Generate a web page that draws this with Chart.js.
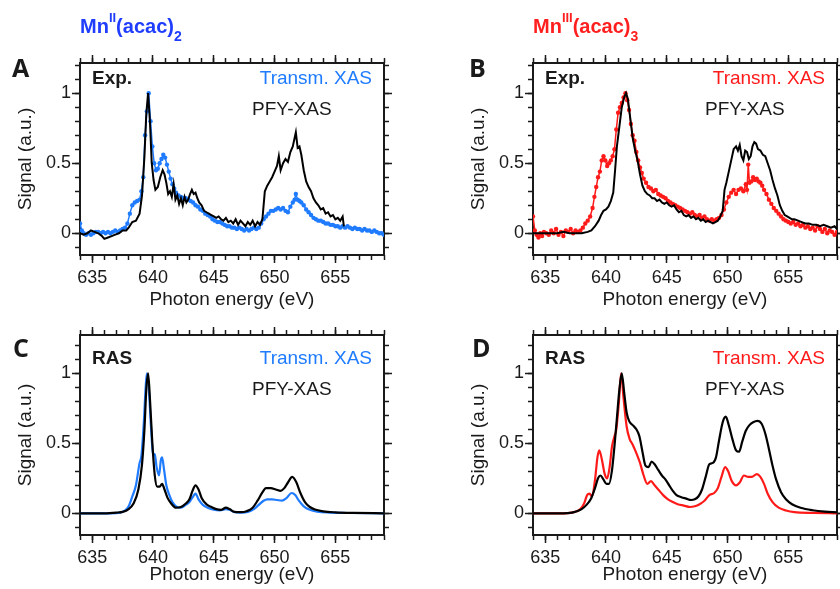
<!DOCTYPE html>
<html><head><meta charset="utf-8">
<script src="https://cdn.jsdelivr.net/npm/chart.js@4/dist/chart.umd.min.js"></script>
<style>
html,body{margin:0;padding:0;background:#fff;overflow:hidden;width:840px;height:589px;position:relative;}
canvas{position:absolute;}
</style></head><body>
<canvas id="cA" width="420" height="312" style="left:0px;top:0px"></canvas>
<canvas id="cB" width="420" height="312" style="left:453px;top:0px"></canvas>
<canvas id="cC" width="420" height="309" style="left:0px;top:280px"></canvas>
<canvas id="cD" width="420" height="309" style="left:453px;top:280px"></canvas>
<script>
// ---------- tick values ----------
const xMajorTicks = [635, 640, 645, 650, 655];
const xMinorTicks = [634,635,636,637,638,639,640,641,642,643,644,645,646,647,648,649,650,651,652,653,654,655,656,657,658,659];
const yMajorTicks = [0, 0.5, 1];
const yMinorTicks = [-0.1,0,0.1,0.2,0.3,0.4,0.5,0.6,0.7,0.8,0.9,1.0,1.1,1.2];

// ---------- Panel A: Mn(II)(acac)2, experiment ----------
const energyA_PFY = [634.0,634.3,634.6,634.9,635.2,635.5,635.8,636.0,636.3,636.6,636.9,637.2,637.5,637.8,638.0,638.3,638.6,638.9,639.1,639.3,639.45,639.6,639.75,639.9,640.05,640.2,640.4,640.6,640.8,640.95,641.1,641.25,641.4,641.55,641.7,641.85,642.0,642.15,642.3,642.45,642.6,642.75,642.9,643.05,643.2,643.35,643.5,643.65,643.8,644.0,644.2,644.4,644.6,644.8,645.0,645.2,645.4,645.6,645.8,646.0,646.2,646.4,646.6,646.8,647.0,647.2,647.4,647.6,647.8,648.0,648.2,648.4,648.6,648.8,649.0,649.2,649.4,649.6,649.8,650.0,650.2,650.35,650.5,650.7,650.9,651.1,651.3,651.5,651.6,651.75,651.9,652.05,652.2,652.4,652.6,652.8,653.0,653.2,653.4,653.6,653.8,654.0,654.2,654.4,654.6,654.8,655.0,655.2,655.4,655.6,655.7];
const signalA_PFY = [0.00,-0.01,0.00,0.02,0.01,0.00,-0.02,-0.04,-0.03,-0.02,-0.01,0.00,0.02,0.02,0.04,0.08,0.09,0.14,0.27,0.55,0.85,1.00,0.80,0.50,0.38,0.31,0.33,0.40,0.45,0.42,0.36,0.28,0.30,0.26,0.35,0.24,0.27,0.21,0.25,0.20,0.26,0.22,0.24,0.28,0.31,0.28,0.29,0.25,0.22,0.20,0.16,0.15,0.14,0.13,0.12,0.11,0.12,0.10,0.09,0.11,0.08,0.09,0.07,0.10,0.06,0.09,0.07,0.05,0.08,0.06,0.09,0.05,0.08,0.06,0.10,0.30,0.34,0.37,0.40,0.44,0.48,0.55,0.45,0.50,0.53,0.51,0.58,0.62,0.66,0.72,0.61,0.62,0.56,0.45,0.37,0.33,0.30,0.25,0.22,0.20,0.17,0.18,0.14,0.15,0.12,0.13,0.10,0.11,0.09,0.12,0.05];
const energyA_TXAS = [634.0,634.15,634.3,634.5,634.7,634.9,635.1,635.3,635.5,635.7,635.9,636.1,636.3,636.5,636.7,636.9,637.1,637.3,637.5,637.7,637.9,638.1,638.3,638.5,638.7,638.9,639.05,639.2,639.35,639.5,639.65,639.8,639.95,640.1,640.25,640.4,640.55,640.7,640.85,641.0,641.15,641.3,641.45,641.6,641.75,641.9,642.1,642.3,642.5,642.7,642.9,643.1,643.3,643.5,643.7,643.9,644.1,644.3,644.5,644.7,644.9,645.1,645.3,645.5,645.7,645.9,646.1,646.3,646.5,646.7,646.9,647.1,647.3,647.5,647.7,647.9,648.1,648.3,648.5,648.7,648.9,649.1,649.3,649.5,649.7,649.9,650.1,650.3,650.5,650.7,650.9,651.1,651.3,651.5,651.65,651.75,651.9,652.05,652.2,652.4,652.6,652.8,653.0,653.2,653.4,653.6,653.8,654.0,654.2,654.4,654.6,654.8,655.0,655.2,655.4,655.6,655.8,656.0,656.2,656.4,656.6,656.8,657.0,657.2,657.4,657.6,657.8,658.0,658.2,658.4,658.6,658.8,659.0];
const signalA_TXAS = [0.07,0.02,0.00,-0.01,0.00,-0.01,0.00,0.01,0.01,0.00,0.01,0.00,0.01,0.00,0.01,0.02,0.01,0.02,0.03,0.04,0.07,0.14,0.20,0.22,0.23,0.24,0.30,0.40,0.70,0.87,1.00,0.80,0.62,0.50,0.45,0.46,0.50,0.53,0.56,0.54,0.49,0.44,0.39,0.35,0.32,0.29,0.27,0.26,0.25,0.25,0.24,0.23,0.22,0.20,0.19,0.17,0.16,0.14,0.13,0.12,0.10,0.09,0.08,0.08,0.07,0.06,0.05,0.05,0.04,0.04,0.03,0.04,0.03,0.02,0.03,0.02,0.03,0.04,0.03,0.04,0.07,0.10,0.12,0.14,0.16,0.16,0.17,0.18,0.17,0.18,0.16,0.15,0.19,0.22,0.24,0.28,0.24,0.23,0.22,0.20,0.17,0.15,0.13,0.11,0.10,0.09,0.09,0.08,0.07,0.07,0.06,0.06,0.05,0.05,0.04,0.05,0.04,0.05,0.04,0.03,0.04,0.03,0.03,0.02,0.03,0.02,0.02,0.01,0.02,0.01,0.00,0.00,-0.01];

// ---------- Panel B: Mn(III)(acac)3, experiment ----------
const energyB_PFY = [634.0,634.5,635.0,635.5,636.0,636.5,637.0,637.5,638.0,638.5,638.8,639.1,639.4,639.6,639.8,640.0,640.2,640.4,640.6,640.75,640.9,641.1,641.3,641.5,641.65,641.8,642.0,642.2,642.4,642.6,642.8,643.0,643.2,643.4,643.6,643.8,644.0,644.2,644.4,644.6,644.8,645.0,645.2,645.4,645.6,645.8,646.0,646.2,646.4,646.6,646.8,647.0,647.2,647.4,647.6,647.8,648.0,648.2,648.4,648.6,648.8,649.0,649.2,649.4,649.6,649.75,649.9,650.1,650.3,650.5,650.7,650.85,651.0,651.15,651.3,651.45,651.6,651.75,651.9,652.05,652.2,652.35,652.5,652.7,652.9,653.1,653.3,653.5,653.7,653.9,654.1,654.3,654.5,654.7,654.9,655.1,655.3,655.5,655.8,656.1,656.4,656.7,657.0,657.3,657.6,657.9,658.2,658.5,658.8,659.0];
const signalB_PFY = [0.00,0.00,0.00,0.00,0.00,0.01,0.00,0.00,0.00,0.01,0.02,0.05,0.09,0.13,0.16,0.17,0.19,0.23,0.29,0.45,0.62,0.76,0.90,0.97,1.00,0.96,0.82,0.68,0.59,0.52,0.42,0.34,0.30,0.28,0.27,0.25,0.25,0.23,0.24,0.22,0.21,0.22,0.20,0.19,0.20,0.17,0.15,0.16,0.13,0.12,0.13,0.11,0.12,0.10,0.11,0.09,0.10,0.08,0.09,0.08,0.07,0.08,0.09,0.12,0.16,0.31,0.36,0.44,0.52,0.60,0.62,0.59,0.63,0.55,0.52,0.59,0.58,0.53,0.55,0.62,0.65,0.64,0.60,0.59,0.56,0.55,0.50,0.45,0.38,0.32,0.27,0.20,0.16,0.13,0.12,0.11,0.10,0.10,0.09,0.08,0.07,0.07,0.06,0.06,0.05,0.06,0.05,0.04,0.05,0.03];
const energyB_TXAS = [634.0,634.15,634.3,634.45,634.6,634.75,634.9,635.1,635.3,635.5,635.7,635.9,636.1,636.3,636.5,636.7,636.9,637.1,637.3,637.5,637.7,637.9,638.1,638.3,638.5,638.7,638.9,639.05,639.2,639.35,639.5,639.65,639.8,639.95,640.1,640.25,640.4,640.55,640.7,640.85,641.0,641.15,641.3,641.45,641.6,641.75,641.9,642.05,642.2,642.35,642.5,642.65,642.8,642.95,643.1,643.3,643.5,643.7,643.9,644.1,644.3,644.5,644.7,644.9,645.1,645.3,645.5,645.7,645.9,646.1,646.3,646.5,646.7,646.9,647.1,647.3,647.5,647.7,647.9,648.1,648.3,648.5,648.7,648.9,649.1,649.3,649.5,649.7,649.9,650.1,650.3,650.5,650.7,650.9,651.1,651.3,651.5,651.6,651.7,651.8,651.95,652.1,652.25,652.4,652.55,652.7,652.85,653.0,653.2,653.4,653.6,653.8,654.0,654.2,654.4,654.6,654.8,655.0,655.2,655.4,655.6,655.8,656.0,656.2,656.4,656.6,656.8,657.0,657.2,657.4,657.6,657.8,658.0,658.2,658.4,658.6,658.8,659.0];
const signalB_TXAS = [0.12,0.02,-0.01,-0.03,0.00,-0.02,0.01,0.00,-0.01,0.02,0.00,0.03,-0.01,0.01,-0.02,0.02,0.01,0.03,0.00,0.02,0.01,0.02,0.04,0.07,0.09,0.12,0.18,0.26,0.33,0.40,0.44,0.52,0.55,0.52,0.48,0.50,0.52,0.55,0.60,0.74,0.86,0.90,0.93,0.97,1.00,0.95,0.88,0.78,0.70,0.66,0.58,0.52,0.47,0.43,0.39,0.36,0.33,0.32,0.30,0.31,0.28,0.27,0.26,0.25,0.23,0.22,0.21,0.20,0.19,0.18,0.17,0.16,0.15,0.14,0.15,0.13,0.12,0.13,0.11,0.12,0.10,0.09,0.10,0.09,0.10,0.11,0.13,0.17,0.22,0.26,0.29,0.31,0.28,0.31,0.32,0.30,0.35,0.31,0.49,0.36,0.37,0.40,0.38,0.39,0.37,0.36,0.34,0.31,0.28,0.24,0.21,0.18,0.16,0.14,0.12,0.10,0.09,0.08,0.07,0.08,0.06,0.07,0.05,0.06,0.04,0.05,0.03,0.04,0.02,0.05,0.03,0.01,0.03,0.00,0.02,0.01,-0.01,0.01];

// ---------- Panel C: Mn(II)(acac)2, RAS calculation ----------
const energyC_PFY = [634.0,636.0,637.0,637.5,638.0,638.4,638.8,639.1,639.3,639.45,639.6,639.75,639.95,640.15,640.35,640.55,640.75,640.95,641.2,641.5,641.9,642.3,642.7,643.0,643.25,643.5,643.75,644.0,644.4,644.8,645.2,645.6,646.0,646.3,646.7,647.2,647.7,648.2,648.6,649.0,649.3,649.7,650.1,650.5,650.8,651.1,651.45,651.8,652.1,652.5,652.9,653.4,654.0,655.0,656.5,659.0];
const signalC_PFY = [0,0,0.005,0.01,0.03,0.07,0.17,0.35,0.60,0.88,1.00,0.82,0.50,0.27,0.19,0.19,0.21,0.17,0.11,0.07,0.04,0.045,0.07,0.10,0.16,0.20,0.17,0.11,0.065,0.045,0.03,0.025,0.04,0.03,0.01,0.008,0.015,0.04,0.09,0.15,0.18,0.18,0.17,0.16,0.18,0.22,0.26,0.22,0.15,0.08,0.045,0.025,0.014,0.007,0.003,0];
const energyC_TXAS = [634.0,636.5,637.3,637.7,638.0,638.3,638.6,638.9,639.05,639.25,639.4,639.5,639.65,639.85,640.0,640.15,640.3,640.5,640.65,640.75,640.9,641.1,641.35,641.6,641.9,642.3,642.7,643.0,643.3,643.5,643.75,644.1,644.5,645.0,645.5,646.0,646.3,646.7,647.3,647.8,648.3,648.7,649.1,649.4,649.8,650.2,650.6,651.0,651.4,651.7,652.0,652.4,652.9,653.5,654.5,656.0,659.0];
const signalC_TXAS = [0,0,0.005,0.02,0.05,0.12,0.20,0.36,0.41,0.65,0.90,1.00,0.90,0.60,0.43,0.42,0.33,0.27,0.38,0.40,0.32,0.20,0.13,0.08,0.05,0.04,0.06,0.08,0.12,0.14,0.10,0.06,0.04,0.025,0.02,0.03,0.025,0.008,0.005,0.01,0.03,0.06,0.09,0.10,0.10,0.095,0.09,0.11,0.145,0.13,0.09,0.05,0.025,0.012,0.005,0.002,0];

// ---------- Panel D: Mn(III)(acac)3, RAS calculation ----------
const energyD_PFY = [634.0,636.5,637.2,637.6,638.0,638.4,638.8,639.1,639.35,639.55,639.8,640.05,640.25,640.5,640.7,640.9,641.1,641.3,641.5,641.7,641.9,642.2,642.5,642.75,643.0,643.25,643.5,643.75,644.0,644.3,644.6,644.9,645.2,645.5,645.8,646.2,646.6,647.0,647.3,647.6,647.9,648.2,648.5,648.8,649.05,649.3,649.6,649.85,650.1,650.4,650.7,650.95,651.2,651.5,651.8,652.1,652.45,652.8,653.1,653.4,653.7,654.0,654.4,654.8,655.3,656.0,657.0,658.0,659.0];
const signalD_PFY = [0,0,0.005,0.015,0.03,0.06,0.11,0.18,0.25,0.27,0.24,0.21,0.21,0.31,0.48,0.68,0.88,1.00,0.86,0.72,0.66,0.63,0.60,0.55,0.44,0.34,0.33,0.37,0.35,0.31,0.27,0.24,0.20,0.16,0.13,0.115,0.105,0.095,0.10,0.12,0.17,0.26,0.35,0.36,0.40,0.52,0.65,0.69,0.63,0.53,0.45,0.44,0.51,0.59,0.63,0.65,0.66,0.64,0.57,0.46,0.34,0.24,0.15,0.10,0.065,0.04,0.022,0.012,0.007];
const energyD_TXAS = [634.0,636.5,637.2,637.6,637.9,638.2,638.45,638.65,638.85,639.1,639.3,639.45,639.65,639.9,640.1,640.3,640.5,640.7,640.85,641.05,641.25,641.45,641.7,641.95,642.2,642.5,642.8,643.1,643.4,643.7,644.0,644.3,644.7,645.1,645.5,645.9,646.4,646.9,647.3,647.7,648.1,648.5,648.9,649.2,649.5,649.8,650.05,650.35,650.7,651.0,651.35,651.7,652.0,652.4,652.7,653.0,653.3,653.7,654.2,654.8,655.5,657.0,659.0];
const signalD_TXAS = [0,0,0.005,0.015,0.03,0.07,0.13,0.14,0.12,0.24,0.40,0.45,0.39,0.28,0.25,0.33,0.48,0.55,0.60,0.78,1.00,0.82,0.62,0.53,0.49,0.43,0.36,0.27,0.21,0.23,0.20,0.17,0.13,0.10,0.08,0.065,0.055,0.045,0.05,0.065,0.09,0.13,0.145,0.18,0.26,0.33,0.30,0.23,0.20,0.22,0.27,0.26,0.26,0.28,0.26,0.21,0.14,0.08,0.04,0.02,0.008,0.003,0];

// ---------- styling ----------
const ARIAL = "'Liberation Sans', Arial, Helvetica, sans-serif";
const INK = '#1a1a1a';
const BLUE = '#1f7bff';
const RED = '#ff1a1a';
const BLUE_TITLE = '#1f3dff';
const RED_TITLE = '#ff1f1f';

function ticksFrom(arr) { return s => { s.ticks = arr.map(v => ({ value: v })); }; }

function buildScales(yMin, yMax, xAxisHeight, xTitleBottomPad) {
  const tickFont = { family: ARIAL, size: 18 };
  const titleFont = { family: ARIAL, size: 19 };
  const frame = { display: true, width: 2, color: INK };
  const noBorder = { display: false };
  const minorGrid = { drawOnChartArea: false, tickLength: 5, tickWidth: 1.5, tickColor: INK };
  const majorGrid = { drawOnChartArea: false, tickLength: 8, tickWidth: 1.5, tickColor: INK };
  return {
    x: { type: 'linear', axis: 'x', position: 'bottom', min: 634, max: 659, weight: 1,
         afterBuildTicks: ticksFrom(xMajorTicks), afterFit: s => { s.height = xAxisHeight; },
         ticks: { font: tickFont, color: INK, padding: 4, maxRotation: 0, autoSkip: false, callback: v => String(v) },
         grid: majorGrid, border: frame,
         title: { display: true, text: 'Photon energy (eV)', font: titleFont, color: INK, padding: { top: 0, bottom: xTitleBottomPad } } },
    xMinor: { type: 'linear', axis: 'x', position: 'bottom', min: 634, max: 659, weight: 0,
         afterBuildTicks: ticksFrom(xMinorTicks), afterFit: s => { s.height = 0; },
         ticks: { display: false }, grid: minorGrid, border: noBorder },
    xTop: { type: 'linear', axis: 'x', position: 'top', min: 634, max: 659, weight: 1,
         afterBuildTicks: ticksFrom(xMajorTicks), afterFit: s => { s.height = 0; },
         ticks: { display: false }, grid: majorGrid, border: frame },
    xTopMinor: { type: 'linear', axis: 'x', position: 'top', min: 634, max: 659, weight: 0,
         afterBuildTicks: ticksFrom(xMinorTicks), afterFit: s => { s.height = 0; },
         ticks: { display: false }, grid: minorGrid, border: noBorder },
    y: { type: 'linear', axis: 'y', position: 'left', min: yMin, max: yMax, weight: 1,
         afterBuildTicks: ticksFrom(yMajorTicks), afterFit: s => { s.width = 80; },
         ticks: { font: tickFont, color: INK, padding: 1, callback: v => String(v) },
         grid: majorGrid, border: frame,
         title: { display: true, text: 'Signal (a.u.)', font: titleFont, color: INK, padding: { top: 14, bottom: 0 } } },
    yMinor: { type: 'linear', axis: 'y', position: 'left', min: yMin, max: yMax, weight: 0,
         afterBuildTicks: ticksFrom(yMinorTicks), afterFit: s => { s.width = 0; },
         ticks: { display: false }, grid: minorGrid, border: noBorder },
    yRight: { type: 'linear', axis: 'y', position: 'right', min: yMin, max: yMax, weight: 1,
         afterBuildTicks: ticksFrom(yMajorTicks), afterFit: s => { s.width = 0; },
         ticks: { display: false }, grid: majorGrid, border: frame },
    yRightMinor: { type: 'linear', axis: 'y', position: 'right', min: yMin, max: yMax, weight: 0,
         afterBuildTicks: ticksFrom(yMinorTicks), afterFit: s => { s.width = 0; },
         ticks: { display: false }, grid: minorGrid, border: noBorder }
  };
}

function series(energies, signals, color, extra) {
  return Object.assign({
    data: energies.map((e, i) => ({ x: e, y: signals[i] })),
    borderColor: color, backgroundColor: color,
    xAxisID: 'x', yAxisID: 'y', fill: false
  }, extra);
}

const expLine = { borderWidth: 2, pointRadius: 0, tension: 0, order: 0 };
const expDots = { borderWidth: 1.5, pointRadius: 2.2, pointBorderWidth: 0, tension: 0, order: 1 };
const calcLine = { borderWidth: 2.2, pointRadius: 0, cubicInterpolationMode: 'monotone' };

// text overlay plugin (panel letters, compound names, in-plot labels)
const panelText = {
  id: 'panelText',
  afterDraw(chart, args, opts) {
    const ctx = chart.ctx;
    ctx.save();
    ctx.textBaseline = 'alphabetic';
    (opts.items || []).forEach(it => {
      ctx.font = it.font; ctx.fillStyle = it.color; ctx.textAlign = it.align || 'left';
      ctx.fillText(it.text, it.x, it.y);
    });
    if (opts.rich) {
      let x = opts.rich.x;
      opts.rich.segs.forEach(sg => {
        ctx.font = 'bold ' + sg.size + 'px ' + ARIAL;
        ctx.fillStyle = opts.rich.color; ctx.textAlign = 'left';
        ctx.fillText(sg.text, x, opts.rich.y + (sg.dy || 0));
        x += ctx.measureText(sg.text).width + (sg.gap || 0);
      });
    }
    ctx.restore();
  }
};

const LETTER_FONT = "bold 25px 'Open Sans', 'DejaVu Sans', sans-serif";
const TAG_FONT = "bold 19px " + ARIAL;
const LEG_FONT = "19px " + ARIAL;

function makeChart(id, datasets, yMin, yMax, padTop, xAxisHeight, xTitlePad, textOpts) {
  return new Chart(document.getElementById(id), {
    type: 'line',
    data: { datasets },
    options: {
      responsive: false, animation: false, devicePixelRatio: 1, events: [],
      layout: { padding: { left: 0, top: padTop, right: 36, bottom: 0 } },
      plugins: { legend: { display: false }, tooltip: { enabled: false }, panelText: textOpts },
      scales: buildScales(yMin, yMax, xAxisHeight, xTitlePad)
    },
    plugins: [panelText]
  });
}

function labels(letter, letterX, tag, color) {
  return [
    { text: letter, x: letterX, y: 77, font: LETTER_FONT, color: INK },
    { text: tag, x: 92, y: 84, font: TAG_FONT, color: INK },
    { text: 'Transm. XAS', x: 372, y: 84, font: LEG_FONT, color: color, align: 'right' },
    { text: 'PFY-XAS', x: 252, y: 115, font: LEG_FONT, color: INK }
  ];
}

makeChart('cA', [
  series(energyA_PFY, signalA_PFY, '#000000', expLine),
  series(energyA_TXAS, signalA_TXAS, BLUE, expDots)
], -0.155, 1.215, 63, 57, 0.6, {
  items: labels('A', 12, 'Exp.', BLUE),
  rich: { x: 80, y: 33, color: BLUE_TITLE, segs: [
    { text: 'Mn', size: 20 }, { text: 'II', size: 13, dy: -11 }, { text: '(acac)', size: 20 }, { text: '2', size: 14, dy: 8 } ] }
});

makeChart('cB', [
  series(energyB_PFY, signalB_PFY, '#000000', expLine),
  series(energyB_TXAS, signalB_TXAS, RED, expDots)
], -0.155, 1.215, 63, 57, 0.6, {
  items: labels('B', 16, 'Exp.', RED),
  rich: { x: 80, y: 33, color: RED_TITLE, segs: [
    { text: 'Mn', size: 20 }, { text: 'III', size: 13, dy: -11 }, { text: '(acac)', size: 20 }, { text: '3', size: 14, dy: 8 } ] }
});

makeChart('cC', [
  series(energyC_PFY, signalC_PFY, '#000000', Object.assign({ order: 0 }, calcLine)),
  series(energyC_TXAS, signalC_TXAS, BLUE, Object.assign({ order: 1 }, calcLine))
], -0.155, 1.2736, 55, 54, 2.6, { items: labels('C', 13, 'RAS', BLUE) });

makeChart('cD', [
  series(energyD_PFY, signalD_PFY, '#000000', Object.assign({ order: 0 }, calcLine)),
  series(energyD_TXAS, signalD_TXAS, RED, Object.assign({ order: 1 }, calcLine))
], -0.155, 1.2736, 55, 54, 2.6, { items: labels('D', 19, 'RAS', RED) });
</script>
</body></html>
